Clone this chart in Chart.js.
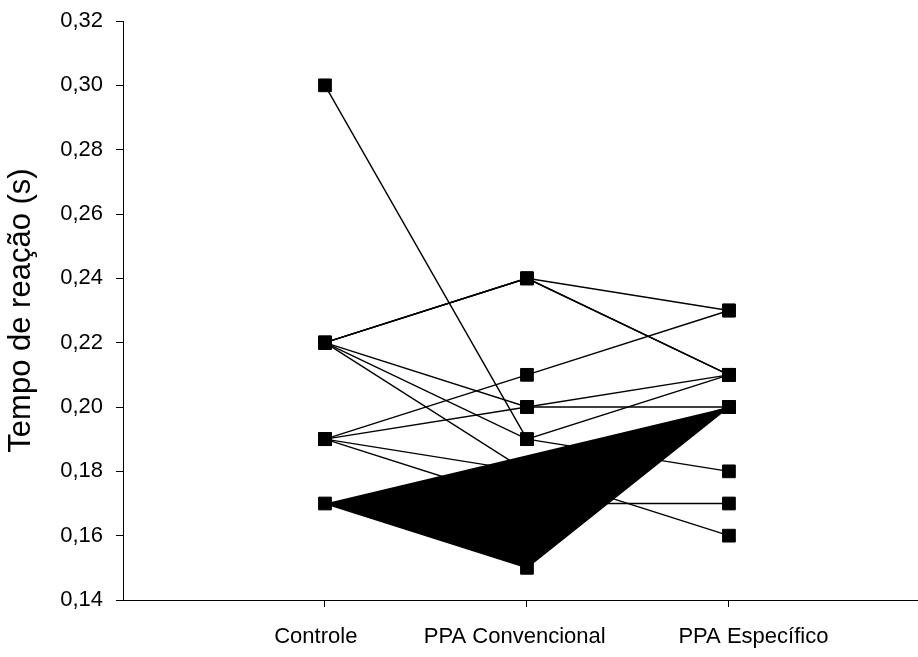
<!DOCTYPE html>
<html>
<head>
<meta charset="utf-8">
<script src="https://cdn.jsdelivr.net/npm/chart.js@4/dist/chart.umd.min.js"></script>
<style>
  html, body { margin: 0; padding: 0; background: #fff; }
  canvas { display: block; }
</style>
</head>
<body>
<canvas id="chart" width="918" height="657"></canvas>
<script>
// Conditions on the x axis
const categories = ['Controle', 'PPA Convencional', 'PPA Específico'];

// Y axis ticks (s)
const yTicks = [0.14, 0.16, 0.18, 0.20, 0.22, 0.24, 0.26, 0.28, 0.30, 0.32];

// Reaction time per participant: [Controle, PPA Convencional, PPA Específico]
const subject01 = [0.17, 0.15, 0.20];
const subject02 = [0.30, 0.19, 0.21];
const subject03 = [0.22, 0.24, 0.21];
const subject04 = [0.22, 0.24, 0.21];
const subject05 = [0.22, 0.24, 0.23];
const subject06 = [0.22, 0.20, 0.21];
const subject07 = [0.22, 0.19, 0.18];
const subject08 = [0.22, 0.18, 0.16];
const subject09 = [0.19, 0.21, 0.23];
const subject10 = [0.19, 0.20, 0.20];
const subject11 = [0.19, 0.18, 0.20];
const subject12 = [0.19, 0.17, 0.17];

const subjects = [subject01, subject02, subject03, subject04, subject05, subject06,
                  subject07, subject08, subject09, subject10, subject11, subject12];

const FONT = '"Liberation Sans", Arial, Helvetica, sans-serif';

// label nudges (in spaces) so each category name sits where it is printed
const labelLead = [0, 0, 8];
const labelTrail = [3, 4, 0];

function toPoints(values) {
  return values.map((v, i) => ({ x: i, y: v }));
}

const datasets = subjects.map((values, idx) => ({
  data: toPoints(values),
  borderColor: '#000',
  borderWidth: 1.4,
  backgroundColor: '#000',
  pointStyle: 'rect',
  pointRadius: 9,
  pointBorderWidth: 1,
  pointBackgroundColor: '#000',
  pointBorderColor: '#000',
  tension: 0,
  // the first participant's profile is drawn as a solid black area
  fill: idx === 0 ? 'shape' : false
}));

new Chart(document.getElementById('chart'), {
  type: 'line',
  data: { datasets },
  options: {
    responsive: false,
    animation: false,
    devicePixelRatio: 1,
    layout: { autoPadding: false, padding: { top: 21, right: 0, bottom: 0, left: 0 } },
    plugins: {
      legend: { display: false },
      tooltip: { enabled: false },
      filler: { propagate: false }
    },
    scales: {
      x: {
        type: 'linear',
        min: -1,
        max: 2.936,
        afterBuildTicks: (scale) => {
          scale.ticks = categories.map((_, i) => ({ value: i }));
        },
        afterFit: (scale) => {
          scale.height = 57;
          scale.paddingLeft = 0;
          scale.paddingRight = 0;
        },
        grid: {
          drawOnChartArea: false,
          drawTicks: true,
          tickLength: 7,
          tickColor: '#000',
          tickWidth: 1
        },
        border: { display: true, color: '#000', width: 1 },
        ticks: {
          autoSkip: false,
          maxRotation: 0,
          padding: 17,
          color: '#000',
          font: { family: FONT, size: 22 },
          callback: (value) => {
            const i = Math.round(value);
            return ' '.repeat(labelLead[i]) + categories[i] + ' '.repeat(labelTrail[i]);
          }
        }
      },
      y: {
        type: 'linear',
        min: 0.14,
        max: 0.32,
        afterBuildTicks: (scale) => {
          scale.ticks = yTicks.map(v => ({ value: v }));
        },
        afterFit: (scale) => {
          scale.width = 123;
          scale.paddingTop = 0;
          scale.paddingBottom = 0;
        },
        grid: {
          drawOnChartArea: false,
          drawTicks: true,
          tickLength: 7,
          tickColor: '#000',
          tickWidth: 1
        },
        border: { display: true, color: '#000', width: 1 },
        ticks: {
          padding: 13,
          color: '#000',
          font: { family: FONT, size: 22 },
          callback: (value) => Number(value).toFixed(2).replace('.', ',')
        },
        title: {
          display: true,
          text: 'Tempo de reação (s)',
          color: '#000',
          font: { family: FONT, size: 31, weight: 'normal' },
          padding: { top: 3, bottom: 0 }
        }
      }
    }
  }
});
</script>
</body>
</html>
